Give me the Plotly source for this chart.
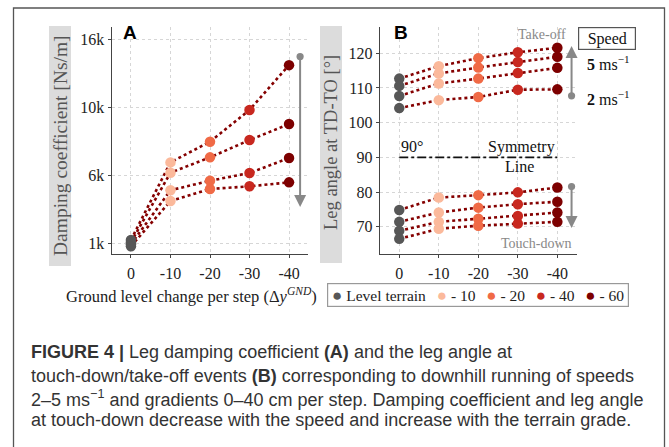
import plotly.graph_objects as go

# ---------------- data ----------------
grade_x = [0, -10, -20, -30, -40]
grade_ticks = ["0", "-10", "-20", "-30", "-40"]

# Panel A: damping coefficient per speed (rows, top to bottom)
damp_s1 = [1250, 6950, 8470, 10800, 14100]
damp_s2 = [1080, 6190, 7320, 8590, 9770]
damp_s3 = [930, 4900, 5600, 6170, 7270]
damp_s4 = [780, 4110, 4990, 5190, 5480]
damp_tickvals = [1000, 6000, 11000, 16000]
damp_ticktext = ["1k", "6k", "10k", "16k"]

# Panel B: leg angle at take-off and touch-down per speed
to_s1 = [112.7, 116.3, 118.6, 120.3, 121.6]
to_s2 = [110.6, 114.2, 115.9, 117.5, 119.0]
to_s3 = [107.7, 111.3, 112.7, 114.3, 115.8]
to_s4 = [104.2, 106.5, 107.4, 109.5, 109.6]
td_s1 = [74.8, 78.4, 79.1, 79.9, 81.3]
td_s2 = [71.4, 74.1, 75.5, 76.5, 77.2]
td_s3 = [68.8, 71.4, 72.3, 73.1, 74.1]
td_s4 = [66.5, 69.4, 70.3, 70.9, 71.4]
angle_ticks = [70, 80, 90, 100, 110, 120]
symmetry_angle = 90
symmetry_x = [0, -40]

legend_labels = ["Level terrain", "- 10", "- 20", "- 40", "- 60"]
grade_colors = ["#575757", "#fbb99b", "#f06a46", "#c8281f", "#7d0000"]

caption_lines = [
    "<b>FIGURE 4 |</b> Leg damping coefficient <b>(A)</b> and the leg angle at",
    "touch-down/take-off events <b>(B)</b> corresponding to downhill running of speeds",
    "2–5 ms<sup>−1</sup> and gradients 0–40 cm per step. Damping coefficient and leg angle",
    "at touch-down decrease with the speed and increase with the terrain grade.",
]

# ---------------- style ----------------
W, H = 669, 447
SERIF = "Liberation Serif, Times New Roman, serif"
SANS = "Liberation Sans, Arial, sans-serif"
CAP_FONT = "Liberation Sans, Arial, sans-serif"
LINE_COLOR = "#850000"
ARROW_COLOR = "#888888"


def px(x):
    return x / W


def py(y):
    return 1 - y / H


fig = go.Figure()

damp_series = [damp_s1, damp_s2, damp_s3, damp_s4]
angle_series = [to_s1, to_s2, to_s3, to_s4, td_s1, td_s2, td_s3, td_s4]

# lines first
for s in damp_series:
    fig.add_trace(go.Scatter(x=grade_x, y=s, mode="lines", xaxis="x", yaxis="y",
                             line=dict(color=LINE_COLOR, width=2.6, dash="dot"),
                             showlegend=False, hoverinfo="skip"))
for s in angle_series:
    fig.add_trace(go.Scatter(x=grade_x, y=s, mode="lines", xaxis="x2", yaxis="y2",
                             line=dict(color=LINE_COLOR, width=2.6, dash="dot"),
                             showlegend=False, hoverinfo="skip"))
# symmetry line
fig.add_trace(go.Scatter(x=symmetry_x, y=[symmetry_angle] * len(symmetry_x), mode="lines",
                         xaxis="x2", yaxis="y2",
                         line=dict(color="#111111", width=1.8, dash="dashdot"),
                         showlegend=False, hoverinfo="skip"))
# markers
for s in damp_series:
    fig.add_trace(go.Scatter(x=grade_x, y=s, mode="markers", xaxis="x", yaxis="y",
                             marker=dict(color=grade_colors, size=10.5, line=dict(width=0)),
                             showlegend=False))
for s in angle_series:
    fig.add_trace(go.Scatter(x=grade_x, y=s, mode="markers", xaxis="x2", yaxis="y2",
                             marker=dict(color=grade_colors, size=10.5, line=dict(width=0)),
                             showlegend=False))

# ---------------- axes ----------------
xr = [4.9, -44.9]
ydom = [py(254), py(26.5)]
common_x = dict(range=xr, tickvals=grade_x, ticktext=grade_ticks, showgrid=True,
                gridcolor="#d6d6d6", griddash="dot", gridwidth=1, zeroline=False,
                showline=True, linecolor="#444444", linewidth=1.2, ticks="outside",
                ticklen=3, tickcolor="#444444", ticklabelstandoff=2,
                tickfont=dict(family=SERIF, size=16, color="#222222"))
common_y = dict(showgrid=True, gridcolor="#d6d6d6", griddash="dot", gridwidth=1,
                zeroline=False, showline=True, linecolor="#444444", linewidth=1.2,
                ticks="outside", ticklen=3, tickcolor="#444444",
                tickfont=dict(family=SERIF, size=16, color="#222222"))

fig.update_layout(
    width=W, height=H, margin=dict(l=0, r=0, t=0, b=0),
    paper_bgcolor="white", plot_bgcolor="white", showlegend=False,
    xaxis=dict(domain=[px(111.6), px(308.4)], anchor="y", **common_x),
    yaxis=dict(domain=ydom, anchor="x", range=[213, 16941], tickvals=damp_tickvals,
               ticktext=damp_ticktext, **common_y),
    xaxis2=dict(domain=[px(379.9), px(576.7)], anchor="y2", **common_x),
    yaxis2=dict(domain=ydom, anchor="x2", range=[62.13, 127.73], tickvals=angle_ticks, **common_y),
)

# ---------------- shapes ----------------
shapes = [
    dict(type="rect", xref="paper", yref="paper", x0=px(13.5), x1=px(664.5), y0=-0.05, y1=py(8),
         line=dict(color="#555555", width=1.3), layer="below"),
    dict(type="rect", xref="paper", yref="paper", x0=px(49), x1=px(71), y0=py(266), y1=py(26),
         fillcolor="#dcdcdc", line=dict(width=0), layer="below"),
    dict(type="rect", xref="paper", yref="paper", x0=px(320), x1=px(342), y0=py(263), y1=py(26),
         fillcolor="#dcdcdc", line=dict(width=0), layer="below"),
]
fig.update_layout(shapes=shapes)

# ---------------- annotations ----------------
ann = []


def text_ann(text, x, y, size, color="#111111", family=SERIF, xanchor="center", ref=("paper", "paper"), **kw):
    d = dict(text=text, xref=ref[0], yref=ref[1], x=x, y=y, xanchor=xanchor, yanchor="middle",
             showarrow=False, font=dict(family=family, size=size, color=color))
    d.update(kw)
    return d


# axis titles
ann.append(text_ann("Damping coefficient [Ns/m]", px(60), py(146), 19.5, "#555555", textangle=-90))
ann.append(text_ann("Leg angle at TD-TO [°]", px(331), py(143), 18.5, "#555555", textangle=-90))
ann.append(text_ann("Ground level change per step (Δ<i>y</i><sup><i>GND</i></sup>)", px(319), py(295),
                    16.5, "#222222", xanchor="right"))
# panel letters
ann.append(text_ann("<b>A</b>", px(121), py(32.5), 19, "black", SANS, xanchor="left"))
ann.append(text_ann("<b>B</b>", px(392), py(32.5), 19, "black", SANS, xanchor="left"))
# panel B text
ann.append(text_ann("90°", 0, 93.0, 16, xanchor="left", ref=("x2", "y2")))
ann.append(text_ann("Symmetry", -40, 93.0, 16, xanchor="right", ref=("x2", "y2")))
ann.append(text_ann("Line", -30.4, 87.3, 16, ref=("x2", "y2")))
ann.append(text_ann("Take-off", -42.7, 125.5, 14, "#888888", xanchor="right", ref=("x2", "y2")))
ann.append(text_ann("Touch-down", -34.8, 65.2, 14, "#888888", ref=("x2", "y2")))
ann.append(text_ann("Speed", px(606.5), py(38.3), 16, width=54, height=19, bordercolor="#555555",
                    borderwidth=1.2, borderpad=1, bgcolor="white"))
ann.append(text_ann("<b>5</b> ms<sup>−1</sup>", px(585), py(62.7), 16, xanchor="left"))
ann.append(text_ann("<b>2</b> ms<sup>−1</sup>", px(585), py(98), 16, xanchor="left"))
# arrows
arrow_style = dict(text="", showarrow=True, arrowside="end+start", arrowhead=2, startarrowhead=6,
                   arrowcolor=ARROW_COLOR, arrowwidth=2, arrowsize=1.2, startarrowsize=0.9,
                   standoff=0, startstandoff=0)
ann.append(dict(xref="x", yref="y", axref="x", ayref="y", x=-42.8, y=3670, ax=-42.8, ay=14846,
                **arrow_style))
ann.append(dict(xref="x2", yref="y2", axref="x2", ayref="y2", x=-43.6, y=122.1, ax=-43.6, ay=107.3,
                **arrow_style))
ann.append(dict(xref="x2", yref="y2", axref="x2", ayref="y2", x=-43.6, y=69.6, ax=-43.6, ay=82.0,
                **arrow_style))
# legend (text based)
sp = "\u00a0"
parts = []
for lab, col in zip(legend_labels, grade_colors):
    parts.append(f"<span style='color:{col};font-size:17px'>●</span>{sp}{lab}")
legend_text = (sp * 2 + "\u2009").join(parts)
ann.append(text_ann(legend_text, px(477.5), py(294.5), 15.5, "#222222", width=298, height=20,
                    bordercolor="#999999", borderwidth=1.2, borderpad=1, bgcolor="white"))
# caption
cap_y = [352, 376, 398, 420]
for line, yy in zip(caption_lines, cap_y):
    ann.append(text_ann(line, px(28.5), py(yy), 18, "#333333", CAP_FONT, xanchor="left"))

fig.update_layout(annotations=ann)
fig.write_html("out.html", config={"displayModeBar": False},
               post_script="document.body.style.margin='0px';document.body.style.overflow='hidden';")
